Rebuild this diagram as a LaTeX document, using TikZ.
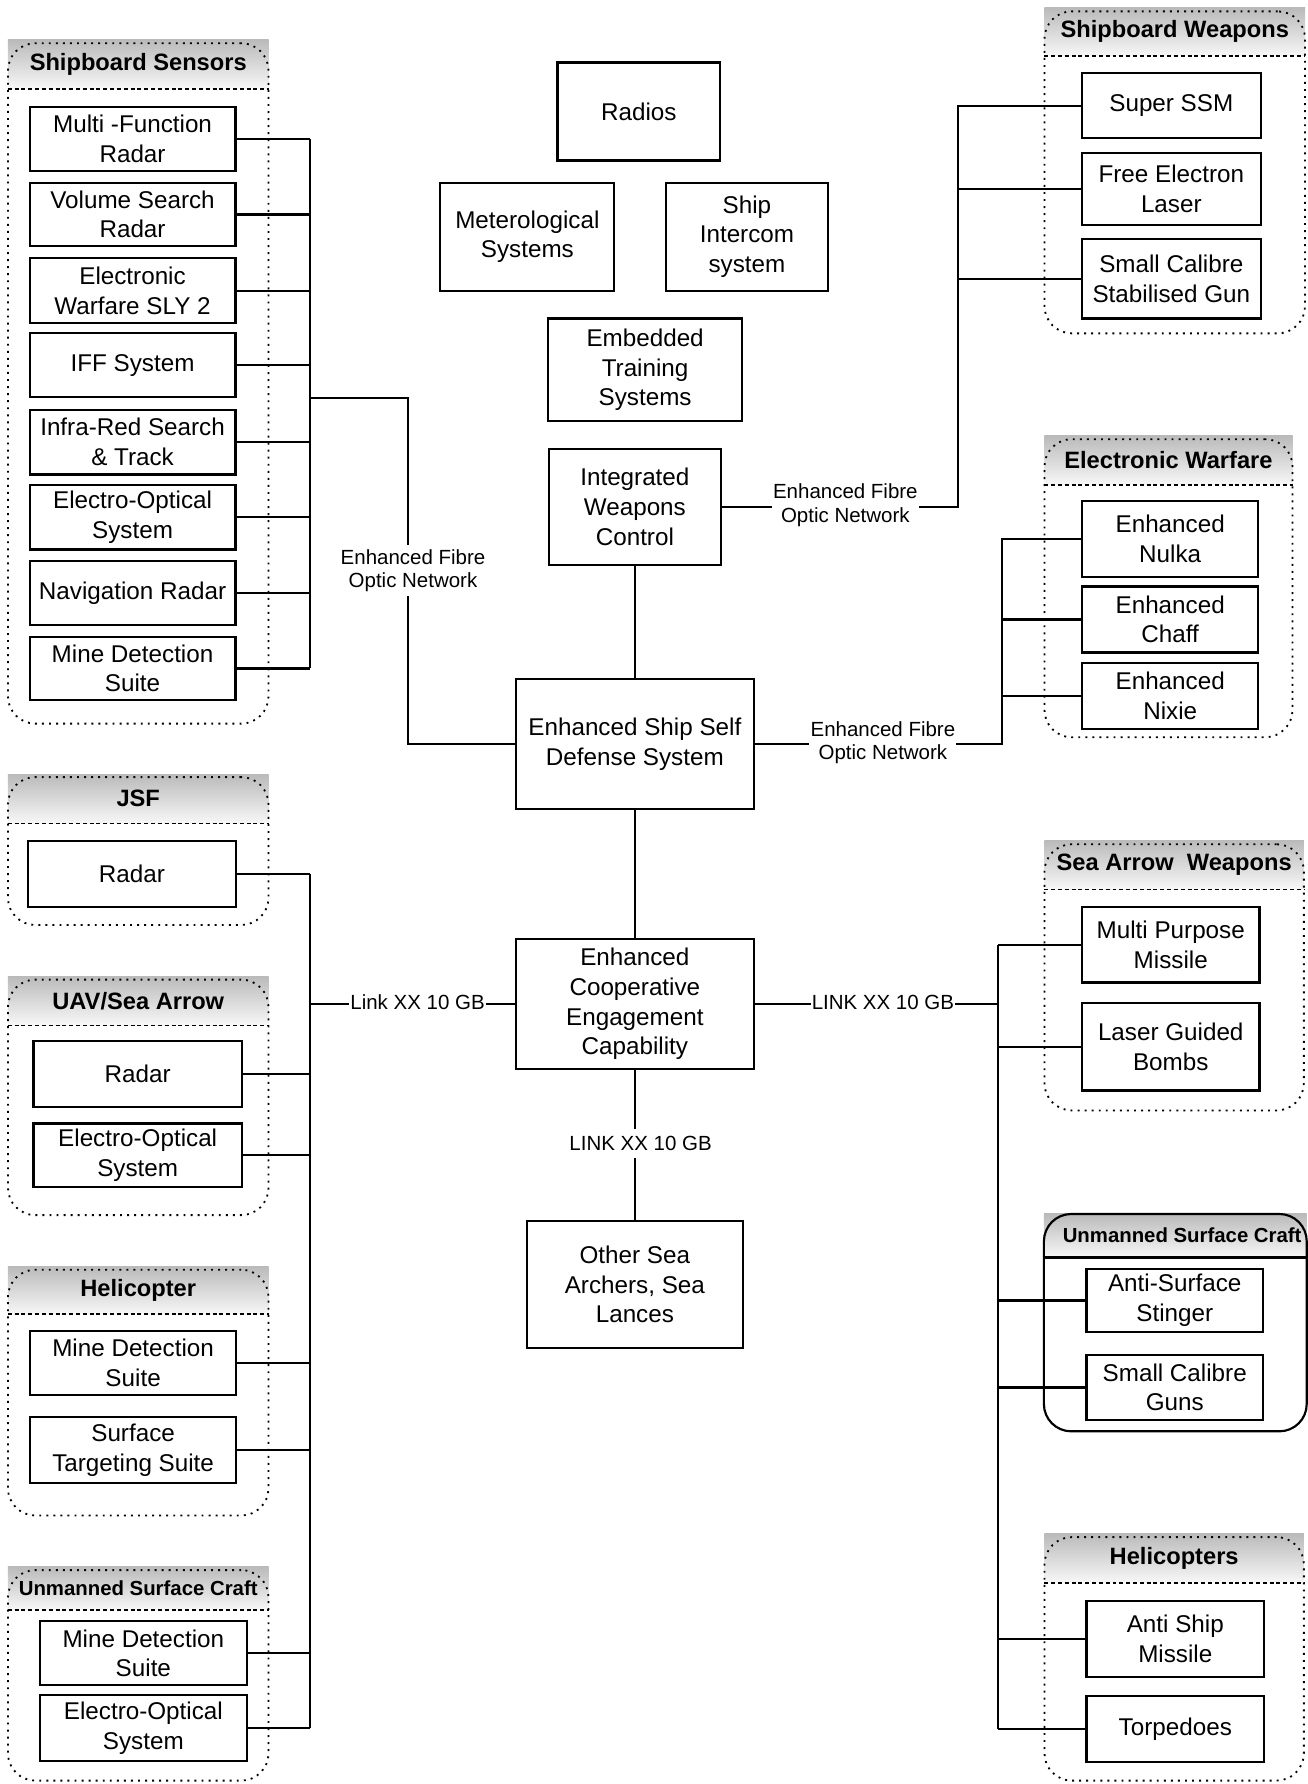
\documentclass[tikz,border=0pt]{standalone}
\usepackage{fontspec}
\setmainfont{Liberation Sans}
\usepackage{tikz}

\begin{document}
\begin{tikzpicture}[
    x=1pt, y=-1pt,
    box/.style={draw, line width=1.9pt, align=center, inner sep=1pt, font={\fontsize{21.3}{26}\selectfont}},
    sbox/.style={box, minimum width=181, minimum height=56},
    wbox/.style={box, minimum width=156, minimum height=57},
    head/.style={top color=black!27, bottom color=black!3, inner sep=0, font={\bfseries\fontsize{20.8}{24}\selectfont}},
    smallhead/.style={head, font={\bfseries\fontsize{17.9}{21}\selectfont}},
    grp/.style={draw, line width=1.6pt, dash pattern=on 1.7pt off 4.5pt, rounded corners=24, inner sep=0},
    grpsolid/.style={draw, line width=1.9pt, rounded corners=24, inner sep=0},
    sep/.style={line width=1.5pt, dash pattern=on 3.5pt off 2.5pt},
    link/.style={line width=1.9pt},
    lbl/.style={fill=white, inner sep=1pt, align=center, font={\fontsize{18}{20.5}\selectfont}}
]
\useasboundingbox (0,0) rectangle (1149,1568);

% groups
\node[head, minimum width=229, minimum height=43] (hsens) at (121.5, 56.5) {Shipboard Sensors};
\node[grp, minimum width=229, minimum height=598] (gsens) at (121.5, 337) {};
\draw[sep] (hsens.south west) -- (hsens.south east);

\node[head, minimum width=229, minimum height=42] (hweap) at (1032.5, 28) {Shipboard Weapons};
\node[grp, minimum width=229, minimum height=283] (gweap) at (1032.5, 151.5) {};
\draw[sep] (hweap.south west) -- (hweap.south east);

\node[head, minimum width=218, minimum height=43] (hew) at (1027, 404.5) {Electronic Warfare};
\node[grp, minimum width=218, minimum height=262] (gew) at (1027, 517) {};
\draw[sep] (hew.south west) -- (hew.south east);

\node[head, minimum width=229, minimum height=43] (hjsf) at (121.5, 702) {JSF};
\node[grp, minimum width=229, minimum height=130] (gjsf) at (121.5, 748) {};
\draw[sep] (hjsf.south west) -- (hjsf.south east);

\node[head, minimum width=229, minimum height=43] (huav) at (121.5, 879.5) {UAV/Sea Arrow};
\node[grp, minimum width=229, minimum height=207] (guav) at (121.5, 964.5) {};
\draw[sep] (huav.south west) -- (huav.south east);

\node[head, minimum width=229, minimum height=42] (hhel) at (121.5, 1134) {Helicopter};
\node[grp, minimum width=229, minimum height=216] (ghel) at (121.5, 1224) {};
\draw[sep] (hhel.south west) -- (hhel.south east);

\node[smallhead, minimum width=229, minimum height=38] (husc) at (121.5, 1396) {Unmanned Surface Craft};
\node[grp, minimum width=229, minimum height=185] (gusc) at (121.5, 1472.5) {};
\draw[sep] (husc.south west) -- (husc.south east);

\node[head, minimum width=228, minimum height=43] (hsaw) at (1032, 760) {Sea Arrow~~Weapons};
\node[grp, minimum width=228, minimum height=234] (gsaw) at (1032, 859) {};
\draw[sep] (hsaw.south west) -- (hsaw.south east);

\node[smallhead, minimum width=231, minimum height=38] (hrusc) at (1033, 1086) {\hspace*{12pt}Unmanned Surface Craft};
\node[grpsolid, minimum width=231, minimum height=191] (grusc) at (1033, 1162.5) {};
\draw[link] (hrusc.south west) -- (hrusc.south east);

\node[head, minimum width=228, minimum height=43] (hhels) at (1032, 1369.5) {Helicopters};
\node[grp, minimum width=228, minimum height=214] (ghels) at (1032, 1458) {};
\draw[sep] (hhels.south west) -- (hhels.south east);

% shipboard sensors
\node[sbox] (mfr) at (116.5, 122) {Multi -Function\\Radar};
\node[sbox] (vsr) at (116.5, 188.5) {Volume Search\\Radar};
\node[sbox, minimum height=57] (ewsly) at (116.5, 255.5) {Electronic\\Warfare SLY 2};
\node[sbox] (iff) at (116.5, 321) {IFF System};
\node[sbox, minimum height=57] (irst) at (116.5, 388.5) {Infra-Red Search\\\& Track};
\node[sbox, minimum height=57] (eos) at (116.5, 454.5) {Electro-Optical\\System};
\node[sbox] (navr) at (116.5, 521) {Navigation Radar};
\node[sbox, minimum height=55] (mdss) at (116.5, 587.5) {Mine Detection\\Suite};

% centre column
\node[box, minimum width=143, minimum height=86] (radios) at (561.5, 98) {Radios};
\node[box, minimum width=153, minimum height=95] (meteo) at (463.5, 208) {Meterological\\Systems};
\node[box, minimum width=143, minimum height=95] (sic) at (656.5, 208) {Ship\\Intercom\\system};
\node[box, minimum width=171, minimum height=90] (ets) at (567, 325) {Embedded\\Training\\Systems};
\node[box, minimum width=151, minimum height=102] (iwc) at (558, 445.5) {Integrated\\Weapons\\Control};
\node[box, minimum width=209, minimum height=114] (essds) at (558, 654) {Enhanced Ship Self\\Defense System};
\node[box, minimum width=209, minimum height=114] (ecec) at (558, 882.5) {Enhanced\\Cooperative\\Engagement\\Capability};
\node[box, minimum width=190, minimum height=112] (other) at (558, 1129) {Other Sea\\Archers, Sea\\Lances};

% shipboard weapons
\node[wbox, minimum width=157] (ssm) at (1029.5, 93) {Super SSM};
\node[wbox, minimum width=157, minimum height=63] (fel) at (1029.5, 166) {Free Electron\\Laser};
\node[wbox, minimum width=157, minimum height=70] (scsg) at (1029.5, 245) {Small Calibre\\Stabilised Gun};

% electronic warfare
\node[wbox, minimum width=155, minimum height=67] (nulka) at (1028.5, 473.5) {Enhanced\\Nulka};
\node[wbox, minimum width=155, minimum height=58] (chaff) at (1028.5, 544.5) {Enhanced\\Chaff};
\node[wbox, minimum width=155, minimum height=58] (nixie) at (1028.5, 611.5) {Enhanced\\Nixie};

% left lower groups
\node[sbox, minimum width=183, minimum height=58] (jsfr) at (116, 768) {Radar};
\node[sbox, minimum width=183, minimum height=58] (uavr) at (121, 944) {Radar};
\node[sbox, minimum width=183] (uaveo) at (121, 1015.5) {Electro-Optical\\System};
\node[sbox] (helmds) at (117, 1198) {Mine Detection\\Suite};
\node[sbox, minimum height=58] (helsts) at (117, 1274.5) {Surface\\Targeting Suite};
\node[sbox, minimum width=182] (uscmds) at (126, 1453) {Mine Detection\\Suite};
\node[sbox, minimum width=182, minimum height=58] (usceo) at (126, 1519) {Electro-Optical\\System};

% right lower groups
\node[wbox, minimum height=66] (mpm) at (1029, 830.5) {Multi Purpose\\Missile};
\node[wbox, minimum height=77] (lgb) at (1029, 920) {Laser Guided\\Bombs};
\node[wbox, minimum width=155, minimum height=56] (ass) at (1032.5, 1143) {Anti-Surface\\Stinger};
\node[wbox, minimum width=155] (scg) at (1032.5, 1219.5) {Small Calibre\\Guns};
\node[wbox, minimum height=67] (asm) at (1033, 1440.5) {Anti Ship\\Missile};
\node[wbox, minimum height=58] (torp) at (1033, 1520) {Torpedoes};

% bus points
\coordinate (sbus) at (272.5, 350);
\coordinate (fbend) at (358.5, 350);
\coordinate (wbus) at (842, 445.5);
\coordinate (ebus) at (881, 654);
\coordinate (abus) at (272.5, 882.5);
\coordinate (rbus) at (877, 882.5);

% sensors to self defense
\draw[link] (mfr.east) -- (mfr.east -| sbus);
\draw[link] (vsr.east) -- (vsr.east -| sbus);
\draw[link] (ewsly.east) -- (ewsly.east -| sbus);
\draw[link] (iff.east) -- (iff.east -| sbus);
\draw[link] (irst.east) -- (irst.east -| sbus);
\draw[link] (eos.east) -- (eos.east -| sbus);
\draw[link] (navr.east) -- (navr.east -| sbus);
\draw[link] (mdss.east) -- (mdss.east -| sbus);
\draw[link] (mfr.east -| sbus) -- (mdss.east -| sbus);
\draw[link] (sbus) -- (fbend) -- (fbend |- essds.west) -- (essds.west);

% weapons control
\draw[link] (iwc.east) -- (wbus) -- (wbus |- ssm.west) -- (ssm.west);
\draw[link] (fel.west) -- (fel.west -| wbus);
\draw[link] (scsg.west) -- (scsg.west -| wbus);

% electronic warfare
\draw[link] (essds.east) -- (ebus) -- (ebus |- nulka.west) -- (nulka.west);
\draw[link] (chaff.west) -- (chaff.west -| ebus);
\draw[link] (nixie.west) -- (nixie.west -| ebus);

% centre spine
\draw[link] (iwc.south) -- (essds.north);
\draw[link] (essds.south) -- (ecec.north);
\draw[link] (ecec.south) -- (other.north);

% cooperative engagement, left
\draw[link] (ecec.west) -- (abus);
\draw[link] (jsfr.east -| abus) -- (usceo.east -| abus);
\draw[link] (jsfr.east) -- (jsfr.east -| abus);
\draw[link] (uavr.east) -- (uavr.east -| abus);
\draw[link] (uaveo.east) -- (uaveo.east -| abus);
\draw[link] (helmds.east) -- (helmds.east -| abus);
\draw[link] (helsts.east) -- (helsts.east -| abus);
\draw[link] (uscmds.east) -- (uscmds.east -| abus);
\draw[link] (usceo.east) -- (usceo.east -| abus);

% cooperative engagement, right
\draw[link] (ecec.east) -- (rbus);
\draw[link] (mpm.west -| rbus) -- (torp.west -| rbus);
\draw[link] (mpm.west) -- (mpm.west -| rbus);
\draw[link] (lgb.west) -- (lgb.west -| rbus);
\draw[link] (ass.west) -- (ass.west -| rbus);
\draw[link] (scg.west) -- (scg.west -| rbus);
\draw[link] (asm.west) -- (asm.west -| rbus);
\draw[link] (torp.west) -- (torp.west -| rbus);

% link labels
\node[lbl, inner ysep=4pt] (fibleft) at (363, 501.5) {Enhanced Fibre\\Optic Network};
\node[lbl] (fibweap) at (743, 444) {Enhanced Fibre\\Optic Network};
\node[lbl] (fibew) at (776, 653) {Enhanced Fibre\\Optic Network};
\node[lbl] (linkleft) at (367, 881) {Link XX 10 GB};
\node[lbl] (linkright) at (776, 881) {LINK XX 10 GB};
\node[lbl, inner ysep=6pt] (linkdown) at (563, 1005) {LINK XX 10 GB};

\end{tikzpicture}
\end{document}
